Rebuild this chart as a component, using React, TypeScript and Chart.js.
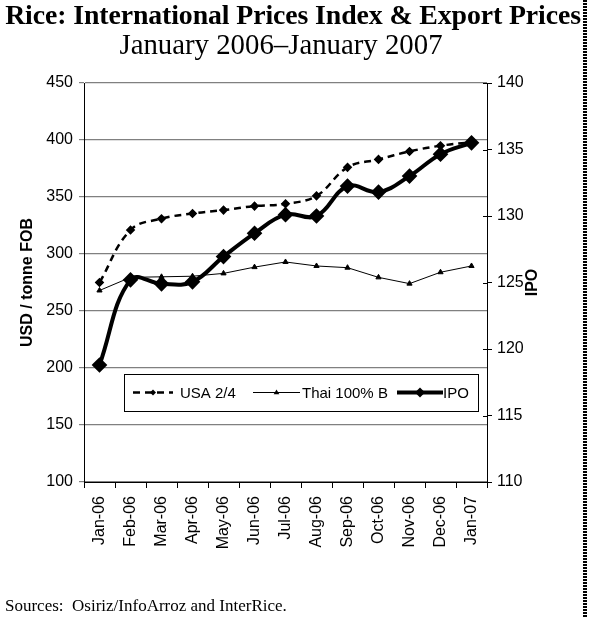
import React, { useEffect, useRef } from "react";
import { Chart, registerables } from "chart.js";

Chart.register(...registerables);

const months = ["Jan-06", "Feb-06", "Mar-06", "Apr-06", "May-06", "Jun-06", "Jul-06", "Aug-06", "Sep-06", "Oct-06", "Nov-06", "Dec-06", "Jan-07"];
const usa24 = [275, 321, 331, 335.5, 338.5, 342, 344, 351, 376, 383, 390, 395, 398];
const thai100B = [268, 279.5, 280, 280.5, 283, 288.5, 293, 289.5, 288, 279.5, 274, 284, 289.5];
const ipo = [118.8, 125.2, 124.9, 125.05, 126.95, 128.7, 130.1, 130.0, 132.25, 131.8, 133.0, 134.65, 135.5];

const seriesNames = ["USA 2/4", "Thai 100% B", "IPO"];
const leftTitle = "USD / tonne FOB";
const rightTitle = "IPO";

const SANS = "'Liberation Sans', Arial, sans-serif";
const SERIF = "'Liberation Serif', 'Times New Roman', serif";

const W = 589;
const H = 617;
const AREA_LEFT = 84;
const AREA_RIGHT = 487;
const AREA_TOP = 83;
const AREA_BOTTOM = 482;

function drawMarker(ctx: CanvasRenderingContext2D, style: string, x: number, y: number, r: number) {
  ctx.beginPath();
  if (style === "triangle") {
    ctx.moveTo(x, y - r);
    ctx.lineTo(x + r * 0.95, y + r * 0.6);
    ctx.lineTo(x - r * 0.95, y + r * 0.6);
  } else {
    ctx.moveTo(x, y - r);
    ctx.lineTo(x + r, y);
    ctx.lineTo(x, y + r);
    ctx.lineTo(x - r, y);
  }
  ctx.closePath();
  ctx.fill();
}

const overlayPlugin = {
  id: "overlay",
  afterDraw(chart: any) {
    const ctx = chart.ctx as CanvasRenderingContext2D;
    const a = chart.chartArea;
    ctx.save();
    // right axis inner tick halves
    const y1 = chart.scales.y1;
    ctx.strokeStyle = "#000";
    ctx.lineWidth = 1;
    y1.ticks.forEach((t: any) => {
      const yy = Math.round(y1.getPixelForValue(t.value)) + 0.5;
      ctx.beginPath();
      ctx.moveTo(a.right - 4, yy);
      ctx.lineTo(a.right, yy);
      ctx.stroke();
    });

    // axis titles
    ctx.fillStyle = "#000";
    ctx.font = "bold 16px " + SANS;
    ctx.textAlign = "center";
    ctx.textBaseline = "middle";
    const cy = (a.top + a.bottom) / 2;
    ctx.save();
    ctx.translate(a.left - 56, cy);
    ctx.rotate(-Math.PI / 2);
    ctx.fillText(leftTitle, 0, 0);
    ctx.restore();
    ctx.save();
    ctx.translate(a.right + 46, cy);
    ctx.rotate(-Math.PI / 2);
    ctx.fillText(rightTitle, 0, 0);
    ctx.restore();

    // legend box
    const bx = a.left + 40;
    const by = a.top + 291;
    const bw = 354;
    const bh = 37;
    ctx.fillStyle = "#fff";
    ctx.fillRect(bx, by, bw, bh);
    ctx.strokeStyle = "#000";
    ctx.lineWidth = 1;
    ctx.strokeRect(bx + 0.5, by + 0.5, bw, bh);
    const ly = by + bh / 2;
    const items = [
      { x0: bx + 9, x1: bx + 49, tx: bx + 56 },
      { x0: bx + 129, x1: bx + 176, tx: bx + 178 },
      { x0: bx + 273, x1: bx + 319, tx: bx + 319 },
    ];
    chart.data.datasets.forEach((ds: any, i: number) => {
      const it = items[i];
      ctx.strokeStyle = "#000";
      ctx.fillStyle = "#000";
      ctx.lineWidth = ds.borderWidth;
      ctx.setLineDash(ds.borderDash || []);
      ctx.beginPath();
      ctx.moveTo(it.x0, ly);
      ctx.lineTo(it.x1, ly);
      ctx.stroke();
      ctx.setLineDash([]);
      drawMarker(ctx, ds.pointStyle, (it.x0 + it.x1) / 2, ly, ds.pointRadius);
      ctx.font = "15px " + SANS;
      ctx.textAlign = "left";
      ctx.textBaseline = "middle";
      ctx.fillText(ds.label, it.tx, ly + 1);
    });
    ctx.restore();
  },
};

export default function App() {
  const ref = useRef<HTMLCanvasElement | null>(null);
  useEffect(() => {
    if (!ref.current) return;
    const chart = new Chart(ref.current, {
      type: "line",
      data: {
        labels: months,
        datasets: [
          {
            label: seriesNames[0],
            data: usa24,
            yAxisID: "y",
            borderColor: "#000",
            backgroundColor: "#000",
            borderWidth: 2.5,
            borderDash: [7, 5],
            pointStyle: "rectRot",
            pointRadius: 3,
            tension: 0.4,
            order: 2,
          },
          {
            label: seriesNames[1],
            data: thai100B,
            yAxisID: "y",
            borderColor: "#000",
            backgroundColor: "#000",
            borderWidth: 1,
            pointStyle: "triangle",
            pointRadius: 3,
            tension: 0,
            order: 1,
          },
          {
            label: seriesNames[2],
            data: ipo,
            yAxisID: "y1",
            borderColor: "#000",
            backgroundColor: "#000",
            borderWidth: 4,
            pointStyle: "rectRot",
            pointRadius: 5,
            tension: 0.4,
            order: 0,
          },
        ] as any,
      },
      options: {
        animation: false,
        responsive: false,
        maintainAspectRatio: false,
        layout: { autoPadding: false, padding: { top: AREA_TOP, left: 0, right: 0, bottom: 0 } } as any,
        plugins: { legend: { display: false }, tooltip: { enabled: false }, title: { display: false } },
        scales: {
          x: {
            type: "category",
            offset: true,
            grid: { display: true, drawOnChartArea: false, offset: true, tickLength: 6, color: "#000", tickWidth: 1 } as any,
            border: { color: "#000", width: 1 },
            ticks: { maxRotation: 90, minRotation: 90, autoSkip: false, color: "#000", font: { family: SANS, size: 16 }, padding: 8 },
            afterFit: (s: any) => { s.height = H - AREA_BOTTOM; },
          },
          y: {
            position: "left",
            min: 100,
            max: 450,
            ticks: { stepSize: 50, color: "#000", font: { family: SANS, size: 16 }, padding: 6 },
            grid: { color: "#808080", lineWidth: 1.2, tickLength: 5, tickColor: "#808080" },
            border: { color: "#000", width: 1 },
            afterFit: (s: any) => { s.width = AREA_LEFT; },
          },
          y1: {
            position: "right",
            min: 110,
            max: 140,
            ticks: { stepSize: 5, color: "#000", font: { family: SANS, size: 16 }, padding: 5 },
            grid: { drawOnChartArea: false, tickLength: 5, color: "#000" },
            border: { color: "#000", width: 1 },
            afterFit: (s: any) => { s.width = W - AREA_RIGHT; },
          },
        },
      } as any,
      plugins: [overlayPlugin],
    });
    return () => chart.destroy();
  }, []);

  return (
    <div style={{ position: "absolute", left: 0, top: 0, width: W, height: H, background: "#fff", overflow: "hidden" }}>
      <canvas ref={ref} width={W} height={H} style={{ position: "absolute", left: 0, top: 0, width: W, height: H }} />
      <div style={{ position: "absolute", left: 0, top: -1, width: 586, textAlign: "center", fontFamily: SERIF, fontWeight: "bold", fontSize: 27.8, lineHeight: "32px", whiteSpace: "nowrap", color: "#000", letterSpacing: "-0.1px" }}>
        Rice: International Prices Index &amp; Export Prices
      </div>
      <div style={{ position: "absolute", left: 0, top: 28, width: 562, textAlign: "center", fontFamily: SERIF, fontSize: 28.8, lineHeight: "32px", whiteSpace: "nowrap", color: "#000" }}>
        January 2006–January 2007
      </div>
      <div style={{ position: "absolute", left: 5, top: 596, fontFamily: SERIF, fontSize: 17, lineHeight: "20px", whiteSpace: "pre", color: "#000" }}>
        {"Sources:  Osiriz/InfoArroz and InterRice."}
      </div>
      <div style={{ position: "absolute", left: 583, top: 0, width: 4, height: H, background: "repeating-linear-gradient(to bottom, #000 0px, #000 2px, #fff 2px, #fff 3px)" }} />
    </div>
  );
}
